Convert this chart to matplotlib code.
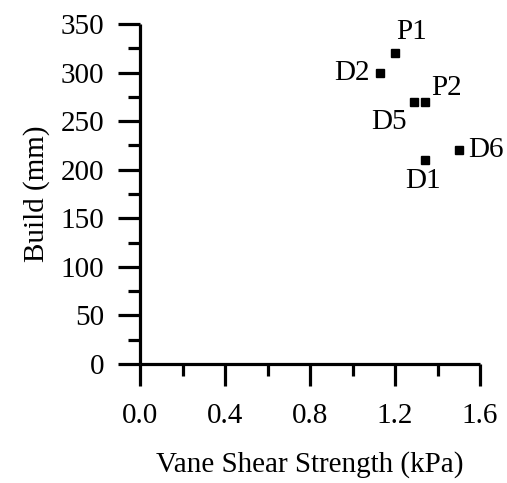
import matplotlib
matplotlib.use("Agg")
import matplotlib.pyplot as plt
from matplotlib.ticker import MultipleLocator

labels   = ["P1", "D2", "D5", "P2", "D6", "D1"]
strength = [1.20, 1.13, 1.29, 1.34, 1.50, 1.34]   # kPa
build    = [320, 300, 270, 270, 220, 210]          # mm

# label placement (offset in pixels, ha, va)
LABEL_POS = {
    "P1": ((17, 21), "center", "center"),
    "D2": ((-10, 0), "right", "center"),
    "D5": ((-25, -20), "center", "center"),
    "P2": ((22, 14), "center", "center"),
    "D6": ((9, 0), "left", "center"),
    "D1": ((-2, -21), "center", "center"),
}

plt.rcParams["font.family"] = ["Liberation Serif", "DejaVu Serif"]
plt.rcParams["font.size"] = 21

fig = plt.figure(figsize=(5.07, 4.83), dpi=100)
ax = fig.add_axes([140 / 507, 119 / 483, 340 / 507, 340 / 483])

ax.plot(strength, build, "s", color="black", markersize=6, clip_on=False)
for lab, x, y in zip(labels, strength, build):
    off, ha, va = LABEL_POS[lab]
    ax.annotate(lab, (x, y), xytext=off, textcoords="offset pixels",
                ha=ha, va=va, fontsize=21)

ax.set_xlim(0, 1.6)
ax.set_ylim(0, 350)
ax.xaxis.set_major_locator(MultipleLocator(0.4))
ax.xaxis.set_minor_locator(MultipleLocator(0.2))
ax.yaxis.set_major_locator(MultipleLocator(50))
ax.yaxis.set_minor_locator(MultipleLocator(25))
ax.xaxis.set_major_formatter(lambda v, p: f"{v:.1f}")

for s in ("top", "right"):
    ax.spines[s].set_visible(False)
for s in ("left", "bottom"):
    ax.spines[s].set_linewidth(2.3)
    ax.spines[s].set_capstyle("butt")

ax.tick_params(which="major", direction="out", length=16, width=2.3)
ax.tick_params(which="minor", direction="out", length=8.5, width=2.3)
ax.tick_params(axis="x", which="major", pad=12)
ax.tick_params(axis="y", which="major", pad=10)

ax.set_xlabel("Vane Shear Strength (kPa)", labelpad=16)
ax.set_ylabel("Build (mm)", labelpad=7)

fig.savefig("out.png", dpi=100)
